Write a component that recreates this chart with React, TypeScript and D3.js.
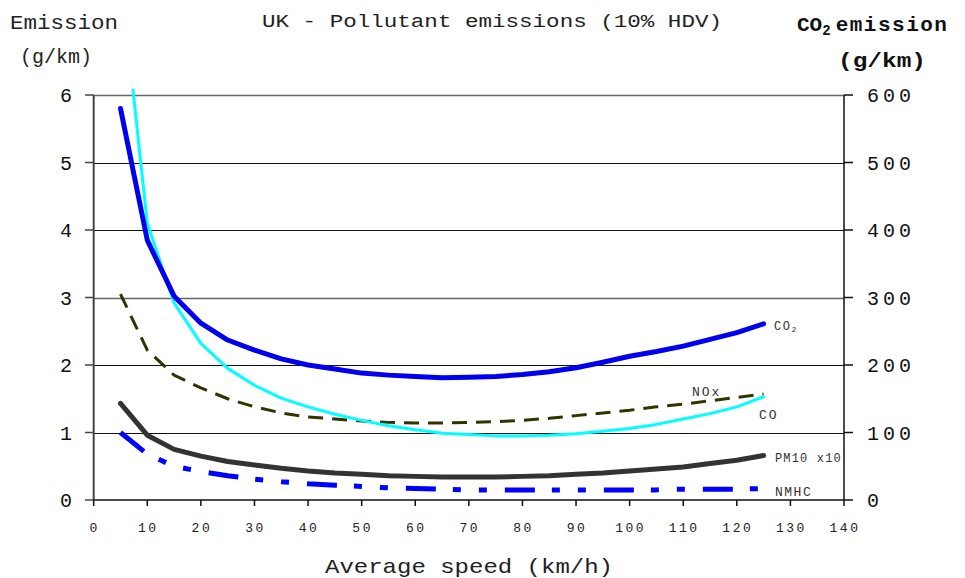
import React from "react";
import * as d3 from "d3";

const speeds = [5,10,15,20,25,30,35,40,45,50,55,60,65,70,75,80,85,90,95,100,105,110,115,120,125];
const co2 = [580,385,302,262,237,222,209,200,194,188,185,183,181,182,183,186,190,196,204,213,220,228,238,248,261];
const co = [7.8,4.1,2.92,2.32,1.95,1.7,1.51,1.38,1.27,1.18,1.1,1.04,0.99,0.97,0.95,0.95,0.96,0.98,1.02,1.06,1.12,1.2,1.28,1.38,1.53];
const nox = [3.05,2.22,1.85,1.66,1.5,1.38,1.29,1.23,1.2,1.17,1.15,1.14,1.14,1.15,1.16,1.18,1.21,1.25,1.29,1.33,1.38,1.42,1.47,1.52,1.57];
const pm10 = [1.43,0.96,0.75,0.65,0.57,0.52,0.47,0.43,0.4,0.38,0.36,0.35,0.34,0.34,0.34,0.35,0.36,0.38,0.4,0.43,0.46,0.49,0.54,0.59,0.66];
const nmhc = [1.0,0.68,0.5,0.42,0.36,0.31,0.27,0.24,0.22,0.2,0.18,0.17,0.16,0.15,0.15,0.15,0.15,0.15,0.15,0.15,0.15,0.16,0.16,0.16,0.17];

const xTicks = [0,10,20,30,40,50,60,70,80,90,100,110,120,130,140];
const leftTicks = [0,1,2,3,4,5,6];
const rightTicks = [0,100,200,300,400,500,600];

const FONT = "'Liberation Mono', 'DejaVu Sans Mono', monospace";

export default function App() {
  const W = 965, H = 578;
  const x = d3.scaleLinear().domain([0, 140]).range([93.7, 844]);
  const yL = d3.scaleLinear().domain([0, 6]).range([500, 95]);
  const yR = d3.scaleLinear().domain([0, 600]).range([500, 95]);

  const lineL = (vals: number[]) =>
    d3.line<number>().x((_, i) => x(speeds[i])).y((d) => yL(d))(vals) || "";
  const lineR = (vals: number[]) =>
    d3.line<number>().x((_, i) => x(speeds[i])).y((d) => yR(d))(vals) || "";

  return (
    <svg width={W} height={H} style={{ position: "absolute", left: 0, top: 0, background: "#fff" }}>
      <defs>
        <clipPath id="plotclip">
          <rect x={93} y={89} width={752} height={412} />
        </clipPath>
      </defs>
      {/* gridlines */}
      {leftTicks.filter((t) => t > 0).map((t) => (
        <line key={t} x1={x(0)} x2={x(140)} y1={Math.round(yL(t)) + 0.5} y2={Math.round(yL(t)) + 0.5}
          stroke={t === 6 || t === 3 ? "#666" : "#111"} strokeWidth={t === 6 || t === 3 ? 1.5 : 1} />
      ))}
      {/* axes */}
      <line x1={x(0)} x2={x(0)} y1={95} y2={500} stroke="#444" strokeWidth={2} />
      <line x1={x(140)} x2={x(140)} y1={95} y2={500} stroke="#111" strokeWidth={1.5} />
      <line x1={x(0)} x2={x(140)} y1={500} y2={500} stroke="#111" strokeWidth={1.5} />
      {leftTicks.map((t) => (
        <line key={"lt" + t} x1={85} x2={x(0)} y1={yL(t)} y2={yL(t)} stroke="#444" strokeWidth={1.5} />
      ))}
      {rightTicks.map((t) => (
        <line key={"rt" + t} x1={x(140)} x2={853} y1={yR(t)} y2={yR(t)} stroke="#111" strokeWidth={1.5} />
      ))}
      {xTicks.map((t) => (
        <line key={"xt" + t} x1={x(t)} x2={x(t)} y1={500} y2={506} stroke="#111" strokeWidth={1.5} />
      ))}
      {/* tick labels */}
      {leftTicks.map((t) => (
        <text key={"ll" + t} x={66} y={yL(t) + 7} textAnchor="middle" fontFamily={FONT} fontSize={20} fill="#111">{t}</text>
      ))}
      {rightTicks.map((t) => (
        <text key={"rl" + t} x={867} y={yR(t) + 7} fontFamily={FONT} fontSize={20} letterSpacing={4} fill="#111">{t}</text>
      ))}
      {xTicks.map((t) => (
        <text key={"xl" + t} x={x(t) + 1} y={532} textAnchor="middle" fontFamily={FONT} fontSize={13} letterSpacing={2.5} fill="#222">{t}</text>
      ))}
      {/* series */}
      <g clipPath="url(#plotclip)" fill="none" strokeLinejoin="round">
        <path d={lineL(nmhc)} stroke="#0000ff" strokeWidth={5} strokeDasharray="30 17 8 18 8 18" />
        <path d={lineL(pm10)} stroke="#333333" strokeWidth={5} strokeLinecap="round" />
        <path d={lineL(nox)} stroke="#333300" strokeWidth={3} strokeDasharray="15 9" />
        <path d={lineL(co)} stroke="#00ffff" strokeWidth={3} strokeLinecap="round" />
        <path d={lineR(co2)} stroke="#0000ee" strokeWidth={5} strokeLinecap="round" />
      </g>
      {/* series labels */}
      <text x={774} y={330} fontFamily={FONT} fontSize={12} letterSpacing={1.5} fill="#333">CO<tspan fontSize={8} dy={2}>2</tspan></text>
      <text x={692} y={396} fontFamily={FONT} fontSize={13} letterSpacing={2} fill="#333">NOx</text>
      <text x={759} y={419} fontFamily={FONT} fontSize={13} letterSpacing={2} fill="#333">CO</text>
      <text x={775} y={462} fontFamily={FONT} fontSize={12} letterSpacing={1.2} textLength={67} lengthAdjust="spacing" fill="#333">PM10 x10</text>
      <text x={775} y={496} fontFamily={FONT} fontSize={13} letterSpacing={1.5} fill="#333">NMHC</text>
      {/* titles */}
      <text x={262} y={27} fontFamily={FONT} fontSize={19} textLength={460} lengthAdjust="spacingAndGlyphs" fill="#222">UK - Pollutant emissions (10% HDV)</text>
      <text x={10} y={29} fontFamily={FONT} fontSize={21} textLength={108} lengthAdjust="spacingAndGlyphs" fill="#222">Emission</text>
      <text x={20} y={63} fontFamily={FONT} fontSize={21} textLength={72} lengthAdjust="spacingAndGlyphs" fill="#222">(g/km)</text>
      <text x={797} y={31} fontFamily={FONT} fontSize={21} fontWeight="bold" fill="#111">CO<tspan fontSize={14} dy={4}>2</tspan><tspan dy={-4} dx={5} letterSpacing={1.5}>emission</tspan></text>
      <text x={838} y={67} fontFamily={FONT} fontSize={21} fontWeight="bold" textLength={88} lengthAdjust="spacingAndGlyphs" fill="#111">(g/km)</text>
      <text x={325} y={573} fontFamily={FONT} fontSize={21} textLength={288} lengthAdjust="spacingAndGlyphs" fill="#222">Average speed (km/h)</text>
    </svg>
  );
}
